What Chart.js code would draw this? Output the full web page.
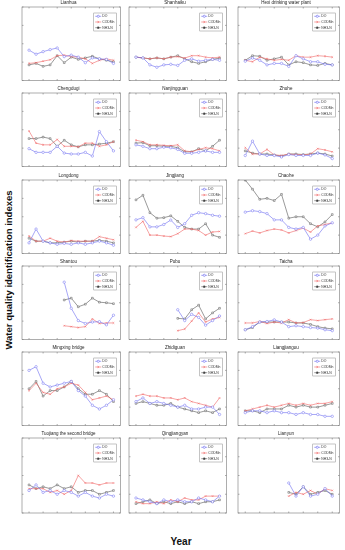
<!DOCTYPE html>
<html>
<head>
<meta charset="utf-8">
<script src="https://cdn.jsdelivr.net/npm/chart.js@4.4.0/dist/chart.umd.min.js"></script>
<style>
  body { margin: 0; background: #fff; width: 345px; height: 550px; position: relative; overflow: hidden; font-family: "Liberation Sans", Arial, sans-serif; }
  canvas { position: absolute; }
  #ylab { position: absolute; left: 8px; top: 270px; transform: translate(-50%, -50%) rotate(-90deg); font-weight: bold; font-size: 9.5px; white-space: nowrap; color: #111; }
  #xlab { position: absolute; left: 181px; top: 541px; transform: translate(-50%, -50%); font-weight: bold; font-size: 10px; color: #111; }
</style>
</head>
<body>
<div id="ylab">Water quality identification indexes</div>
<div id="xlab">Year</div>
<script>
// axis ticks
const yearTicks = [2006, 2008, 2010, 2012, 2014, 2016, 2018];
const yTicks = [1, 2, 3, 4, 5];
const seriesNames = ['DO', 'CODMn', 'NH3-N'];

// monitoring sections, row by row
const stations = [
    'Lianhua', 'Shanhaiku', 'Hexi drinking water plant',
    'Chengdugi', 'Nanjingguan', 'Zhuhe',
    'Longdong', 'Jingjiang', 'Chaohe',
    'Shantou', 'Pubu', 'Taicha',
    'Mingxing bridge', 'Zhidiguan', 'Liangjiangou',
    'Tuojiang the second bridge', 'Qingjiangyan', 'Lianyun'
];
const startYears = [2006, 2006, 2006, 2006, 2006, 2006, 2006, 2006, 2006,
    2011, 2012, 2006, 2006, 2006, 2006, 2006, 2006, 2012];

const doValues = [
    [2.65, 2.43, 2.57, 2.68, 2.77, 2.30, 2.38, 2.27, 1.97, 2.23, 2.18, 2.15, 1.93],
    [2.27, 2.23, 1.85, 1.72, 1.85, 1.88, 1.82, 2.10, 2.18, 2.05, 2.10, 2.15, 2.10],
    [2.05, 2.22, 2.10, 1.85, 1.93, 1.93, 1.77, 2.35, 2.18, 2.02, 2.02, 1.88, 1.85],
    [1.97, 1.77, 1.77, 1.77, 2.10, 1.73, 1.68, 1.68, 1.77, 1.57, 2.90, 2.35, 1.85],
    [2.18, 2.10, 1.97, 1.97, 2.05, 2.02, 1.93, 1.72, 1.72, 1.77, 1.85, 1.77, 1.77],
    [1.60, 2.38, 1.68, 1.60, 1.60, 1.52, 1.65, 1.60, 1.60, 1.60, 1.73, 1.63, 1.43],
    [1.58, 2.33, 1.67, 1.58, 1.50, 1.55, 1.50, 1.58, 1.50, 1.58, 1.67, 1.58, 1.45],
    [2.83, 2.95, 2.45, 2.45, 2.58, 2.82, 2.42, 2.62, 3.08, 3.22, 3.17, 3.08, 3.03],
    [3.25, 3.33, 3.28, 3.17, 2.83, 2.83, 2.42, 2.33, 2.42, 1.78, 2.00, 2.50, 2.67],
    [4.12, 2.70, 2.03, 1.87, 1.95, 1.97, 1.80, 2.32],
    [2.62, 2.03, 2.37, 2.20, 1.78, 2.03, 2.28],
    [1.53, 1.70, 1.95, 1.98, 2.07, 1.95, 1.70, 1.75, 1.70, 1.65, 1.62, 1.53, 1.48],
    [4.00, 4.20, 3.30, 3.10, 3.20, 3.30, 3.40, 2.90, 2.60, 2.10, 1.90, 2.10, 2.40],
    [2.30, 2.50, 2.20, 2.30, 2.20, 2.10, 2.00, 2.10, 1.90, 1.90, 2.00, 2.00, 1.60],
    [1.70, 1.80, 1.80, 1.70, 1.80, 1.70, 1.70, 1.60, 1.70, 1.60, 1.60, 1.50, 1.50],
    [2.20, 2.50, 2.10, 2.20, 2.00, 2.20, 2.10, 1.90, 2.10, 1.90, 1.80, 2.00, 1.90],
    [1.80, 1.70, 1.60, 1.50, 1.70, 1.60, 1.70, 1.60, 1.60, 1.80, 1.70, 1.60, 1.90],
    [2.60, 1.90, 2.40, 1.90, 2.00, 2.30, 1.90]
];

const codValues = [
    [1.93, 1.97, 2.05, 2.13, 2.35, 2.38, 2.30, 2.27, 2.18, 1.93, 2.10, 2.18, 2.10],
    [2.27, 2.23, 2.18, 2.23, 2.18, 2.27, 2.30, 2.22, 2.35, 2.35, 2.27, 2.23, 2.27],
    [2.10, 2.02, 2.27, 2.18, 2.10, 2.15, 2.10, 2.35, 2.27, 2.27, 2.35, 2.32, 2.27],
    [2.93, 2.27, 2.18, 2.18, 2.47, 2.10, 2.10, 2.07, 2.27, 2.27, 2.10, 2.18, 2.35],
    [2.43, 2.35, 2.18, 2.18, 2.15, 2.13, 2.18, 1.85, 1.80, 1.93, 2.02, 1.97, 1.85],
    [2.02, 1.68, 1.68, 1.93, 1.63, 1.60, 1.68, 1.65, 1.63, 1.68, 1.97, 1.90, 1.80],
    [1.95, 1.67, 1.67, 1.83, 1.67, 1.62, 1.70, 1.67, 1.67, 1.67, 1.92, 1.83, 1.75],
    [2.42, 2.75, 2.00, 2.00, 1.95, 1.92, 2.08, 2.33, 2.33, 2.25, 2.00, 2.17, 2.20],
    [2.08, 2.22, 2.12, 2.25, 2.33, 2.28, 2.12, 2.25, 2.38, 2.17, 2.50, 2.58, 2.67],
    [1.75, 1.70, 1.65, 1.70, 2.12, 1.87, 1.90, 1.90],
    [1.48, 1.57, 2.00, 2.45, 1.95, 2.12, 2.20],
    [1.90, 1.90, 1.98, 1.87, 1.95, 1.90, 2.08, 1.90, 1.92, 2.08, 2.03, 2.08, 2.12],
    [2.90, 3.30, 2.80, 2.70, 3.00, 3.10, 3.30, 3.20, 2.80, 2.40, 2.50, 2.60, 2.40],
    [2.60, 2.70, 2.60, 2.60, 2.50, 2.50, 2.40, 2.50, 2.30, 2.20, 2.10, 2.00, 2.50],
    [1.80, 1.90, 2.00, 2.10, 2.00, 2.10, 2.20, 2.10, 2.20, 2.10, 2.20, 2.20, 2.30],
    [2.30, 2.30, 2.30, 2.10, 2.20, 2.00, 2.20, 3.00, 2.60, 2.60, 2.50, 2.60, 2.60],
    [1.60, 1.50, 1.50, 1.60, 1.50, 1.70, 1.60, 1.80, 1.70, 1.70, 1.90, 1.90, 1.90],
    [1.90, 2.10, 2.00, 2.20, 2.00, 2.30, 2.20]
];

const nh3Values = [
    [1.85, 1.93, 1.77, 1.85, 2.35, 1.97, 2.27, 2.15, 2.23, 2.32, 2.18, 2.10, 2.02],
    [2.27, 2.23, 2.18, 2.23, 2.18, 2.27, 2.35, 2.18, 2.02, 1.93, 2.02, 2.15, 2.22],
    [2.10, 2.35, 2.32, 2.10, 2.18, 2.27, 1.85, 2.02, 1.97, 1.85, 1.82, 1.93, 1.85],
    [2.52, 2.52, 2.60, 2.52, 2.10, 2.43, 2.18, 2.07, 2.18, 2.18, 2.22, 2.27, 2.35],
    [2.27, 2.30, 2.13, 2.13, 2.10, 2.10, 2.02, 1.80, 1.80, 1.97, 1.85, 2.10, 2.43],
    [1.85, 1.73, 1.68, 1.68, 1.63, 1.57, 1.68, 1.68, 1.65, 1.68, 1.73, 1.68, 1.57],
    [1.83, 1.67, 1.67, 1.58, 1.58, 1.62, 1.67, 1.62, 1.67, 1.67, 1.72, 1.67, 1.58],
    [3.92, 4.17, 3.22, 2.92, 2.95, 3.05, 2.75, 2.42, 2.33, 2.33, 2.62, 2.00, 1.88],
    [5.00, 4.50, 3.95, 4.00, 3.88, 4.22, 2.92, 3.00, 3.00, 2.62, 2.45, 2.72, 3.12],
    [3.15, 3.25, 2.78, 2.92, 3.25, 3.03, 3.00, 2.95],
    [2.15, 2.12, 2.62, 2.87, 2.12, 2.45, 2.70],
    [1.53, 1.65, 1.95, 1.95, 1.95, 1.95, 1.95, 1.90, 1.90, 1.82, 1.70, 1.62, 1.58],
    [3.00, 3.40, 2.60, 2.90, 2.90, 3.10, 3.40, 3.00, 2.70, 2.70, 2.90, 2.70, 2.30],
    [2.20, 2.30, 2.20, 2.10, 2.10, 2.20, 2.00, 1.90, 1.80, 1.70, 1.80, 1.70, 1.90],
    [1.80, 1.80, 1.70, 1.90, 1.90, 1.90, 2.10, 2.00, 2.10, 2.00, 2.00, 2.10, 2.20],
    [2.50, 2.30, 2.40, 2.30, 2.50, 2.30, 2.40, 2.10, 2.20, 2.20, 2.00, 2.10, 2.20],
    [1.50, 1.60, 1.70, 1.50, 1.60, 1.50, 1.60, 1.50, 1.60, 1.50, 1.60, 1.60, 1.70],
    [2.10, 2.00, 2.40, 2.00, 2.10, 2.20, 2.00]
];

// panel layout (plot area positions in px)
const colLeft = [22, 129, 238];
const colWidth = [101, 100, 104];
const rowTop = [7, 93, 180, 266, 352, 438];
const plotH = 75;

const colors = ['#6c6cf0', '#f06464', '#555555'];
const markers = ['circle', 'crossRot', 'rect'];

Chart.defaults.font.family = '"Liberation Sans", Arial, sans-serif';
Chart.defaults.color = '#222';

// box around the plot area with inward tick marks
const framePlugin = {
    id: 'frame',
    afterDraw(chart) {
        const { ctx, chartArea: a, scales } = chart;
        ctx.save();
        ctx.strokeStyle = '#777';
        ctx.lineWidth = 0.6;
        ctx.strokeRect(a.left, a.top, a.width, a.height);
        ctx.beginPath();
        scales.y.ticks.forEach(t => {
            const y = scales.y.getPixelForValue(t.value);
            ctx.moveTo(a.left, y); ctx.lineTo(a.left + 1.5, y);
            ctx.moveTo(a.right, y); ctx.lineTo(a.right - 1.5, y);
        });
        scales.x.ticks.forEach(t => {
            const x = scales.x.getPixelForValue(t.value);
            ctx.moveTo(x, a.bottom); ctx.lineTo(x, a.bottom - 1.5);
            ctx.moveTo(x, a.top); ctx.lineTo(x, a.top + 1.5);
        });
        ctx.stroke();
        ctx.restore();
    }
};

// small boxed legend in the top right corner of each panel
const boxLegend = {
    id: 'boxLegend',
    afterDraw(chart) {
        const { ctx, chartArea: a } = chart;
        ctx.save();
        ctx.font = '3.4px "Liberation Sans", Arial, sans-serif';
        const tw = Math.max(...chart.data.datasets.map(d => ctx.measureText(d.label).width));
        const w = 9 + tw + 1.5, h = 18;
        const x0 = a.right - 4 - w, y0 = a.top + 6;
        ctx.fillStyle = '#fff';
        ctx.fillRect(x0, y0, w, h);
        ctx.strokeStyle = '#888';
        ctx.lineWidth = 0.5;
        ctx.strokeRect(x0, y0, w, h);
        chart.data.datasets.forEach((d, k) => {
            const y = y0 + 3.3 + k * 5.7;
            ctx.strokeStyle = d.borderColor;
            ctx.lineWidth = 0.6;
            ctx.beginPath();
            ctx.moveTo(x0 + 1.5, y); ctx.lineTo(x0 + 7.5, y);
            ctx.stroke();
            Chart.helpers.drawPoint(ctx, { pointStyle: d.pointStyle, radius: 1.1, borderWidth: 0.5 }, x0 + 4.5, y);
            ctx.fillStyle = '#333';
            ctx.textBaseline = 'middle';
            ctx.fillText(d.label, x0 + 8.5, y);
        });
        ctx.restore();
    }
};

function points(i, vals) {
    return vals.map((v, k) => ({ x: startYears[i] + k, y: v }));
}

stations.forEach((name, i) => {
    const r = Math.floor(i / 3), c = i % 3;
    const bottomRow = r === rowTop.length - 1;
    const padL = 8, padT = 7, padR = 2, padB = bottomRow ? 9 : 3;
    const W = colWidth[c] + padL + padR, H = plotH + padT + padB;

    const cv = document.createElement('canvas');
    cv.width = W; cv.height = H;
    cv.style.width = W + 'px'; cv.style.height = H + 'px';
    cv.style.left = (colLeft[c] - padL) + 'px';
    cv.style.top = (rowTop[r] - padT) + 'px';
    document.body.appendChild(cv);

    const series = [doValues[i], codValues[i], nh3Values[i]];
    new Chart(cv, {
        type: 'line',
        data: {
            datasets: series.map((vals, k) => ({
                label: seriesNames[k],
                data: points(i, vals),
                borderColor: colors[k],
                backgroundColor: '#fff',
                pointBorderColor: colors[k],
                pointBackgroundColor: '#fff',
                pointStyle: markers[k],
                borderWidth: 0.6,
                pointRadius: 1.2,
                pointBorderWidth: 0.5,
                tension: 0
            }))
        },
        options: {
            responsive: false,
            animation: false,
            devicePixelRatio: 1,
            layout: { padding: { left: 0, right: padR, top: 0, bottom: 0 } },
            plugins: {
                legend: { display: false },
                tooltip: { enabled: false },
                title: {
                    display: true, text: name, color: '#222',
                    font: { size: 4.5, weight: 'normal' },
                    padding: { top: 0, bottom: 1.6 }
                }
            },
            scales: {
                x: {
                    type: 'linear', min: 2005, max: 2019,
                    grid: { display: false }, border: { display: false },
                    afterBuildTicks: s => { s.ticks = yearTicks.map(v => ({ value: v })); },
                    ticks: { display: bottomRow, font: { size: 4.5 }, padding: 1, maxRotation: 0, autoSkip: false },
                    afterFit: s => { s.height = padB; }
                },
                y: {
                    min: 1, max: 5,
                    grid: { display: false }, border: { display: false },
                    afterBuildTicks: s => { s.ticks = yTicks.map(v => ({ value: v })); },
                    ticks: { font: { size: 4.5 }, padding: 1.5 },
                    afterFit: s => { s.width = padL; }
                }
            }
        },
        plugins: [framePlugin, boxLegend]
    });
});
</script>
</body>
</html>
